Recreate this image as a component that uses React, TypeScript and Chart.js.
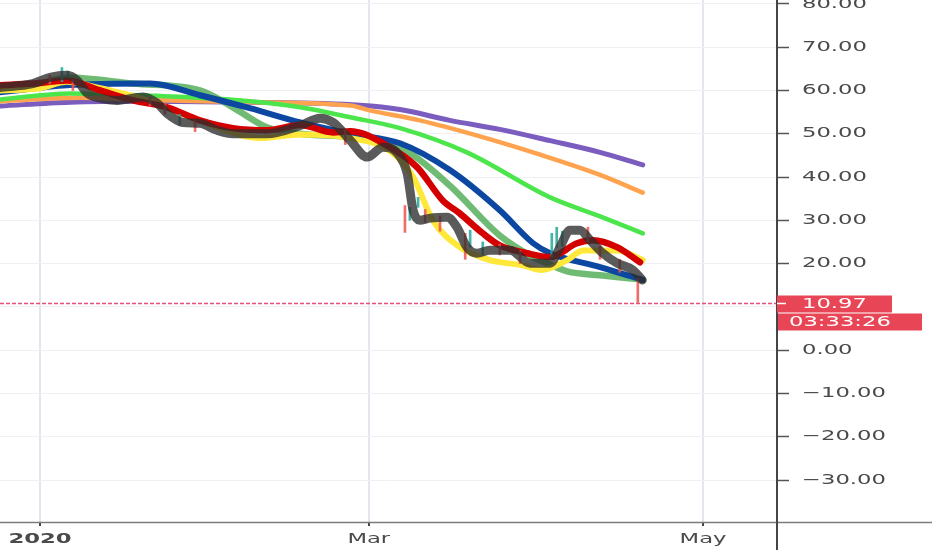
import React, { useEffect, useRef } from 'react';
import { Chart, registerables } from 'chart.js';

Chart.register(...registerables);

// ---- axis ticks ----
const xTickDays = [0, 60, 121]; // days since 2020-01-01
const xTickLabels = ['2020', 'Mar', 'May'];
const yTickValues = [-30, -20, -10, 0, 10, 20, 30, 40, 50, 60, 70, 80];
const lastPrice = 10.97;
const countdown = '03:33:26';

// ---- moving averages (day since 2020-01-01, value) ----
const purpleDays = [-7.3, 5.5, 20.1, 38.3, 58.4, 65.7, 74.8, 83.9, 93.1, 102.2, 110.0];
const purpleVals = [56.4, 57.3, 57.5, 57.3, 56.6, 55.6, 53.1, 51.0, 48.4, 45.7, 42.8];

const orangeDays = [-7.3, 7.3, 20.1, 38.3, 56.6, 60.2, 69.3, 80.3, 90.7, 102.2, 110.0];
const orangeVals = [57.5, 58.3, 57.8, 57.3, 56.5, 55.4, 53.1, 49.4, 45.4, 40.5, 36.4];

const limeDays = [-7.3, 5.5, 20.1, 38.3, 47.5, 56.6, 65.7, 77.9, 93.1, 102.2, 110.0];
const limeVals = [57.9, 59.3, 58.8, 57.5, 56.1, 53.8, 51.3, 45.7, 35.3, 30.9, 27.0];

const blueDays = [-7.3, 4.9, 20.1, 29.2, 38.3, 47.5, 56.6, 65.7, 74.8, 83.9, 90.0, 93.1, 102.2, 110.0];
const blueVals = [59.6, 61.2, 61.6, 58.9, 55.9, 52.6, 50.0, 47.8, 41.6, 32.3, 24.7, 22.4, 19.2, 16.2];

const sageDays = [-7.3, 0, 4.9, 17.0, 29.2, 35.2, 41.4, 47.5, 56.6, 62.0, 67.5, 74.8, 83.9, 90.0, 93.1, 96.2, 102.2, 110.0];
const sageVals = [60.5, 61.5, 63.0, 61.6, 60.0, 56.1, 51.5, 50.0, 49.2, 48.0, 45.5, 38.0, 26.5, 21.5, 19.8, 18.2, 17.3, 16.3];

const yellowDays = [-7.3, 0, 4.9, 11.0, 20.1, 29.2, 40.2, 47.5, 56.6, 63.9, 68.1, 71.7, 76.6, 82.1, 88.1, 91.5, 96.2, 99.1, 105.3, 110.0];
const yellowVals = [60.0, 60.5, 62.0, 60.5, 57.5, 53.0, 49.0, 49.8, 49.0, 46.0, 40.0, 30.0, 23.8, 20.8, 19.6, 18.5, 20.8, 23.0, 23.0, 20.8];

const redDays = [-7.3, -1.3, 4.9, 11.0, 17.0, 23.2, 29.2, 35.2, 41.4, 47.5, 53.5, 56.6, 62.6, 68.8, 73.5, 76.6, 80.8, 83.9, 88.9, 93.1, 98.0, 100.9, 105.3, 109.5];
const redVals = [61.2, 61.6, 62.3, 60.0, 57.7, 56.1, 53.1, 51.3, 50.8, 52.0, 50.3, 50.6, 47.8, 42.3, 34.6, 31.6, 27.0, 24.2, 22.4, 21.5, 24.7, 25.4, 23.8, 20.3];

const grayDays = [-7.3, -1.3, 1.8, 4.9, 6.8, 8.6, 11.0, 14.1, 18.8, 21.4, 23.2, 26.1, 29.2, 32.3, 35.2, 41.4, 47.5, 51.1, 53.5, 56.6, 59.7, 62.6, 65.2, 67.0, 68.1, 69.3, 71.2, 74.3, 76.1, 77.9, 79.7, 82.1, 85.8, 89.4, 93.1, 94.9, 96.7, 98.5, 100.4, 102.7, 105.3, 108.2, 109.9];
const grayVals = [60.7, 61.6, 63.0, 63.5, 62.3, 59.4, 58.2, 57.7, 58.5, 57.0, 54.7, 52.6, 52.4, 50.8, 50.0, 50.0, 51.9, 53.6, 52.6, 48.5, 44.6, 46.9, 45.5, 40.9, 32.3, 30.0, 30.5, 30.7, 28.4, 23.8, 22.4, 23.1, 23.1, 20.1, 20.1, 23.8, 27.7, 27.7, 25.4, 22.4, 20.1, 18.5, 16.2];

// ---- visible candle wicks ----
const candleDays = [1.8, 4.0, 5.1, 6.0, 20.1, 22.8, 25.5, 28.3, 55.7, 66.6, 67.5, 69.0, 70.3, 73.0, 77.6, 78.5, 80.8, 83.9, 87.6, 93.4, 94.3, 95.3, 100.0, 102.2, 105.8, 109.1];
const candleLow = [61.5, 62.0, 63.0, 60.0, 56.5, 54.5, 52.0, 50.5, 47.5, 27.2, 30.0, 33.0, 29.5, 27.5, 21.0, 23.8, 22.0, 22.0, 20.0, 21.5, 23.8, 24.0, 24.9, 21.0, 18.0, 11.0];
const candleHigh = [63.5, 65.3, 64.5, 62.5, 58.5, 57.0, 54.5, 53.0, 51.0, 33.4, 33.0, 35.3, 32.5, 31.0, 27.0, 27.7, 25.0, 24.5, 23.0, 27.0, 28.4, 27.5, 28.4, 24.0, 21.0, 16.6];
const candleUp = [false, true, true, false, false, false, true, false, false, false, true, true, false, false, false, true, true, false, false, true, true, true, false, false, false, false];

const X_MIN = -7.3;
const X_MAX = 134.5;
const Y_MIN = -39.7;
const Y_MAX = 80.9;

const PRICE_RED = '#e84656';
const DASH_COLOR = '#e2507a';
const TEXT_COLOR = '#4a4a4a';
const STRETCH = 1.62;

function fmtPrice(v: number): string {
  return v < 0 ? '\u2212' + Math.abs(v).toFixed(2) : v.toFixed(2);
}

function series(days: number[], vals: number[]) {
  return days.map((d, i) => ({ x: d, y: vals[i] }));
}

function lineDs(label: string, days: number[], vals: number[], color: string, width: number, order: number) {
  return {
    type: 'line' as const,
    label,
    data: series(days, vals),
    borderColor: color,
    borderWidth: width,
    pointRadius: 0,
    cubicInterpolationMode: 'monotone' as const,
    fill: false,
    borderCapStyle: 'round' as const,
    borderJoinStyle: 'round' as const,
    order,
  };
}

function zeroPadding(s: any) {
  s.paddingTop = 0;
  s.paddingBottom = 0;
  s.paddingLeft = 0;
  s.paddingRight = 0;
}

const decorPlugin = {
  id: 'decor',
  afterDraw(chart: any) {
    const { ctx, chartArea, scales, width, height } = chart;
    const py = Math.round(scales.y.getPixelForValue(lastPrice)) + 0.5;
    ctx.save();
    // dashed last price line
    ctx.strokeStyle = DASH_COLOR;
    ctx.lineWidth = 1.3;
    ctx.setLineDash([4, 2]);
    ctx.beginPath();
    ctx.moveTo(chartArea.left, py);
    ctx.lineTo(chartArea.right, py);
    ctx.stroke();
    ctx.setLineDash([]);
    // axis lines
    ctx.strokeStyle = '#7c7c7c';
    ctx.lineWidth = 1.5;
    ctx.beginPath();
    ctx.moveTo(0, chartArea.bottom + 0.5);
    ctx.lineTo(width, chartArea.bottom + 0.5);
    ctx.stroke();
    ctx.strokeStyle = '#454545';
    ctx.lineWidth = 2;
    ctx.beginPath();
    ctx.moveTo(chartArea.right, 0);
    ctx.lineTo(chartArea.right, height);
    ctx.stroke();
    // price label boxes
    const bx = chartArea.right;
    ctx.fillStyle = PRICE_RED;
    ctx.fillRect(bx, py - 8, 115, 17);
    ctx.fillRect(bx + 1, py + 10, 144, 17);
    ctx.strokeStyle = '#ffffff';
    ctx.lineWidth = 1.5;
    ctx.beginPath();
    ctx.moveTo(bx, py);
    ctx.lineTo(bx + 9, py);
    ctx.stroke();
    ctx.fillStyle = '#ffffff';
    ctx.font = '14px "DejaVu Sans"';
    ctx.textBaseline = 'middle';
    ctx.textAlign = 'left';
    ctx.fillText(fmtPrice(lastPrice), bx + 25, py + 0.5);
    ctx.fillText(countdown, bx + 12, py + 18.5);
    ctx.restore();
  },
};

export default function App() {
  const canvasRef = useRef<HTMLCanvasElement | null>(null);

  useEffect(() => {
    document.body.style.margin = '0';
    const canvas = canvasRef.current;
    if (!canvas) return;
    const ctx = canvas.getContext('2d') as any;
    const origFill = ctx.fillText;
    ctx.fillText = function (text: string, x: number, y: number, maxWidth?: number) {
      this.save();
      this.translate(x, y);
      this.scale(STRETCH, 1);
      if (maxWidth === undefined) origFill.call(this, text, 0, 0);
      else origFill.call(this, text, 0, 0, maxWidth / STRETCH);
      this.restore();
    };

    const chart = new Chart(ctx, {
      type: 'line',
      data: {
        datasets: [
          lineDs('Price', grayDays, grayVals, 'rgba(45,45,45,0.78)', 9, 0),
          {
            type: 'bar' as const,
            label: 'Candles',
            data: candleDays.map((d, i) => ({ x: d, y: [candleLow[i], candleHigh[i]] })) as any,
            backgroundColor: candleUp.map((u) => (u ? 'rgba(38,166,154,0.85)' : 'rgba(239,83,80,0.85)')),
            borderWidth: 0,
            barThickness: 2,
            grouped: false,
            order: 1,
          } as any,
          lineDs('MA red', redDays, redVals, '#d40000', 6.5, 2),
          lineDs('MA yellow', yellowDays, yellowVals, '#ffe83a', 6, 3),
          lineDs('MA blue', blueDays, blueVals, '#0c47a1', 6, 4),
          lineDs('MA sage', sageDays, sageVals, 'rgba(76,170,80,0.8)', 6.5, 5),
          lineDs('MA lime', limeDays, limeVals, '#4ce64c', 4.5, 6),
          lineDs('MA orange', orangeDays, orangeVals, '#ffa34f', 4.5, 7),
          lineDs('MA purple', purpleDays, purpleVals, '#7b5cbf', 5, 8),
        ] as any,
      },
      options: {
        responsive: false,
        animation: false,
        devicePixelRatio: 1,
        layout: { padding: 0, autoPadding: false } as any,
        plugins: { legend: { display: false }, tooltip: { enabled: false } },
        scales: {
          x: {
            type: 'linear',
            min: X_MIN,
            max: X_MAX,
            offset: false,
            afterBuildTicks: (s: any) => {
              s.ticks = xTickDays.map((v) => ({ value: v }));
            },
            afterFit: (s: any) => {
              s.height = 28;
              zeroPadding(s);
            },
            grid: { color: '#e3e6ed', lineWidth: 2, tickColor: '#444', tickLength: 4, tickWidth: 2, offset: false },
            border: { display: false },
            ticks: {
              autoSkip: false,
              maxRotation: 0,
              padding: 5,
              color: TEXT_COLOR,
              font: (c: any) => ({ family: 'DejaVu Sans', size: 14, weight: c.index === 0 ? 'bold' : 'normal' }),
              callback: (_v: any, i: number) => xTickLabels[i],
            },
          },
          y: {
            type: 'linear',
            position: 'right',
            min: Y_MIN,
            max: Y_MAX,
            afterBuildTicks: (s: any) => {
              s.ticks = yTickValues.map((v) => ({ value: v }));
            },
            afterFit: (s: any) => {
              s.width = 155;
              zeroPadding(s);
            },
            grid: { color: '#eef0f4', lineWidth: 1, tickColor: '#555', tickLength: 12, tickWidth: 1.5 },
            border: { display: false },
            ticks: {
              padding: 13,
              color: TEXT_COLOR,
              font: { family: 'DejaVu Sans', size: 14 },
              callback: (v: any) => fmtPrice(Number(v)),
            },
          },
        } as any,
      },
      plugins: [decorPlugin],
    });

    return () => {
      chart.destroy();
      delete ctx.fillText;
    };
  }, []);

  return (
    <div style={{ width: 932, height: 550, position: 'relative', background: '#fff' }}>
      <canvas ref={canvasRef} width={932} height={550} style={{ display: 'block' }} />
    </div>
  );
}
